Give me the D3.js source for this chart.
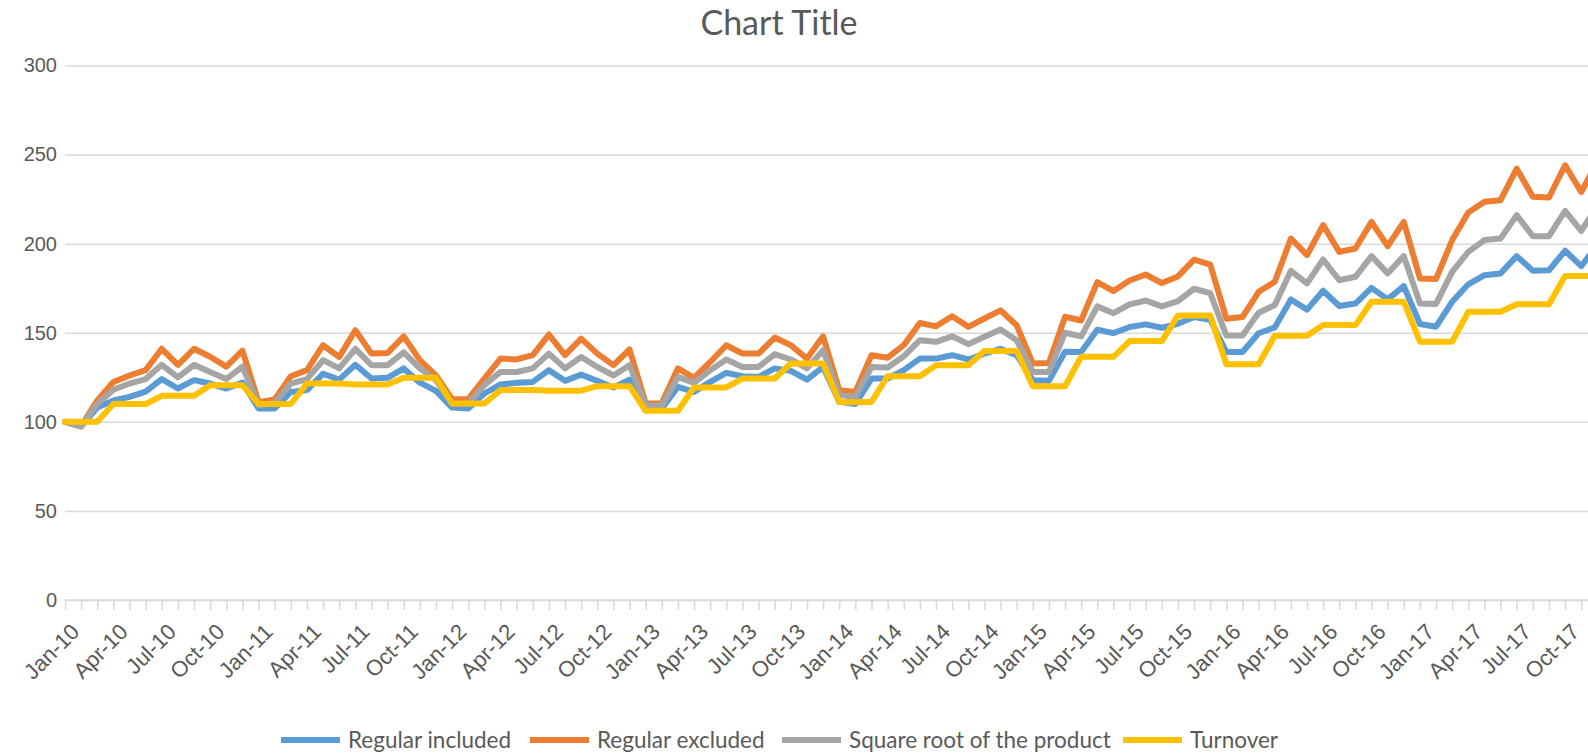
<!DOCTYPE html>
<html>
<head>
<meta charset="utf-8">
<script src="https://cdn.jsdelivr.net/npm/d3@7"></script>
<style>
  body { margin: 0; background: #fff; overflow: hidden; }
  svg { display: block; font-family: Lato, "Open Sans", sans-serif; }
</style>
</head>
<body>
<div id="chart"></div>
<script>
let size = {width: 1588, height: 755};
let plot = {left: 65, top: 65.5, bottom: 600, step: 16.13};

// tick labels: month names x years, Jan-10 .. Dec-17
let monthNames = ['Jan','Feb','Mar','Apr','May','Jun','Jul','Aug','Sep','Oct','Nov','Dec'];
let years = ['10','11','12','13','14','15','16','17'];
let yTicks = [0, 50, 100, 150, 200, 250, 300];

let seriesNames = ['Regular included', 'Regular excluded', 'Square root of the product', 'Turnover'];
let seriesColors = ['#5B9BD5', '#ED7D31', '#A5A5A5', '#FFC000'];

let regularIncluded = [
  100, 97.5, 108, 112, 114, 117, 124, 118.7, 123.4, 121.5, 118.7, 122,
  107.5, 107.5, 116.8, 117.8, 127, 123.7, 132, 124.3, 124.7, 130, 122, 117.4,
  108, 107.5, 115.9, 121, 121.9, 122.4, 129, 123, 126.5, 123, 119.3, 123.7,
  106.5, 107.5, 119.6, 116.8, 122.4, 127.5, 125.6, 125.2, 130, 128.6, 123.7, 130.8,
  111.2, 110, 124.3, 124.3, 129, 135.5, 135.5, 137.4, 135, 138.3, 141, 137.4,
  123.4, 123, 139.3, 139.2, 151.7, 149.8, 153.2, 154.7, 152.8, 155, 158.8, 157.3,
  139.2, 139.2, 149.7, 153, 168.7, 163, 173.6, 165, 166.4, 175.2, 168.7, 176.2,
  154.9, 153.4, 167.4, 177.2, 182.3, 183.3, 193, 184.8, 185.1, 196, 187.4, 199
];
let regularExcluded = [
  100, 97.5, 112, 122.4, 126, 129, 141, 132, 141, 136.5, 131, 140,
  111, 112.5, 125.6, 129, 143, 136.4, 151.4, 138.3, 138.7, 148, 134.6, 126,
  112.7, 112.7, 124.3, 135.5, 135, 137.4, 149, 137.4, 146.7, 138.3, 131.8, 140.6,
  110.3, 110.5, 130, 124.7, 133.6, 143, 138.3, 138.3, 147.3, 143, 135.5, 148,
  117.8, 116.8, 137.4, 136, 143, 155.5, 153.6, 159.3, 153.3, 158, 162.6, 154.2,
  132.7, 133, 159, 156.9, 178.4, 173.4, 179.3, 182.7, 177.9, 181.6, 191, 188.3,
  157.9, 158.8, 173, 178.6, 202.9, 193.6, 210.4, 195.4, 197.3, 212.2, 198.6, 212.2,
  180.5, 180.2, 202, 217.5, 223.5, 224.4, 242.1, 226.3, 225.9, 244, 229, 246
];
let squareRoot = [
  100, 97.5, 110, 118, 121.5, 124, 132, 125, 132, 128, 124, 131,
  109.5, 110.6, 121.5, 124, 134.6, 130, 141, 131.8, 131.8, 139, 130, 123.4,
  110, 110.3, 120.6, 128, 128, 130, 138.3, 130, 136.4, 130.8, 126, 131.8,
  109.3, 109, 125.2, 121.9, 129, 135, 130.8, 130.8, 138, 135, 130, 140.2,
  115, 114, 130.8, 130.5, 136.8, 145.8, 144.9, 148, 143.6, 147.7, 151.8, 145.8,
  128, 128, 150, 148, 164.8, 161, 165.9, 168, 164.8, 167.8, 174.7, 172.2,
  148.5, 148.5, 161.2, 165.5, 184.8, 177.7, 191.1, 179.5, 181.4, 193, 183.3, 193,
  166.4, 166.2, 184.2, 195.4, 202, 202.9, 216, 204.2, 204.2, 218.4, 207.2, 221
];
let turnover = [
  100, 100, 100, 110, 110, 110, 114.6, 114.6, 114.6, 120.6, 120.6, 120.6,
  110, 110, 110, 121.5, 121.5, 121.5, 121, 121, 121, 124.7, 124.7, 124.7,
  110.3, 110.3, 110.3, 117.8, 117.8, 117.8, 117.5, 117.5, 117.5, 120, 120, 120,
  106.2, 106.2, 106.2, 119.3, 119.3, 119.3, 124.3, 124.3, 124.3, 132.7, 132.7, 132.7,
  111.2, 111.2, 111.2, 125.6, 125.6, 125.6, 131.8, 131.8, 131.8, 139.8, 139.8, 139.8,
  120, 120, 120, 136.5, 136.5, 136.5, 145.3, 145.3, 145.3, 159.7, 159.7, 159.7,
  132.3, 132.3, 132.3, 148.3, 148.3, 148.3, 154.3, 154.3, 154.3, 167.4, 167.4, 167.4,
  145, 145, 145, 161.8, 161.8, 161.8, 166, 166, 166, 181.8, 181.8, 181.8
];

let series = [regularIncluded, regularExcluded, squareRoot, turnover];
let labels = [];
years.forEach(function(y){
  monthNames.forEach(function(m){ labels.push(m + '-' + y); });
});

let svg = d3.select('#chart').append('svg')
  .attr('width', size.width)
  .attr('height', size.height);

let x = d3.scaleLinear()
  .domain([0, labels.length - 1])
  .range([plot.left, plot.left + (labels.length - 1) * plot.step]);
let y = d3.scaleLinear()
  .domain([0, 300])
  .range([plot.bottom, plot.top]);

function drawTitle(){
  svg.append('text')
    .attr('x', 779).attr('y', 35)
    .attr('text-anchor', 'middle')
    .attr('fill', '#595959')
    .style('font-size', '34px')
    .text('Chart Title');
}

function drawGrid(){
  let yAxis = d3.axisLeft(y).tickValues(yTicks).tickSize(-(size.width - plot.left)).tickPadding(8);
  let g = svg.append('g')
    .attr('transform', 'translate(' + plot.left + ',0)')
    .call(yAxis);
  g.select('.domain').remove();
  g.selectAll('line').attr('stroke', '#D9D9D9').attr('stroke-width', 1.5);
  g.selectAll('text').attr('fill', '#595959').style('font-size', '20px');
}

function drawXAxis(){
  let xAxis = d3.axisBottom(x)
    .tickValues(d3.range(labels.length))
    .tickSize(10)
    .tickFormat(function(i){ return i % 3 === 0 ? labels[i] : ''; });
  let g = svg.append('g')
    .attr('transform', 'translate(0,' + plot.bottom + ')')
    .call(xAxis);
  g.select('.domain').attr('stroke', '#D9D9D9').attr('stroke-width', 1.5)
    .attr('d', 'M' + plot.left + ',0H' + size.width);
  g.selectAll('line').attr('stroke', '#D9D9D9').attr('stroke-width', 1.5);
  g.selectAll('text')
    .attr('fill', '#595959')
    .style('font-size', '22px')
    .attr('text-anchor', 'end')
    .attr('dx', 0).attr('dy', 0)
    .attr('transform', 'translate(6,24) rotate(-45)');
}

function drawLines(){
  let line = d3.line()
    .x(function(d, i){ return x(i); })
    .y(function(d){ return y(d); });
  series.forEach(function(s, k){
    svg.append('path')
      .datum(s)
      .attr('d', line)
      .attr('fill', 'none')
      .attr('stroke', seriesColors[k])
      .attr('stroke-width', 6)
      .attr('stroke-linejoin', 'round')
      .attr('stroke-linecap', 'round');
  });
}

function drawLegend(){
  let starts = [281, 530, 782, 1123];
  let g = svg.append('g').attr('transform', 'translate(0,740)');
  seriesNames.forEach(function(n, k){
    g.append('line')
      .attr('x1', starts[k]).attr('x2', starts[k] + 59)
      .attr('stroke', seriesColors[k]).attr('stroke-width', 6);
    g.append('text')
      .attr('x', starts[k] + 67).attr('y', 8)
      .attr('fill', '#595959')
      .style('font-size', '22.5px')
      .text(n);
  });
}

drawTitle();
drawGrid();
drawXAxis();
drawLines();
drawLegend();
</script>
</body>
</html>
